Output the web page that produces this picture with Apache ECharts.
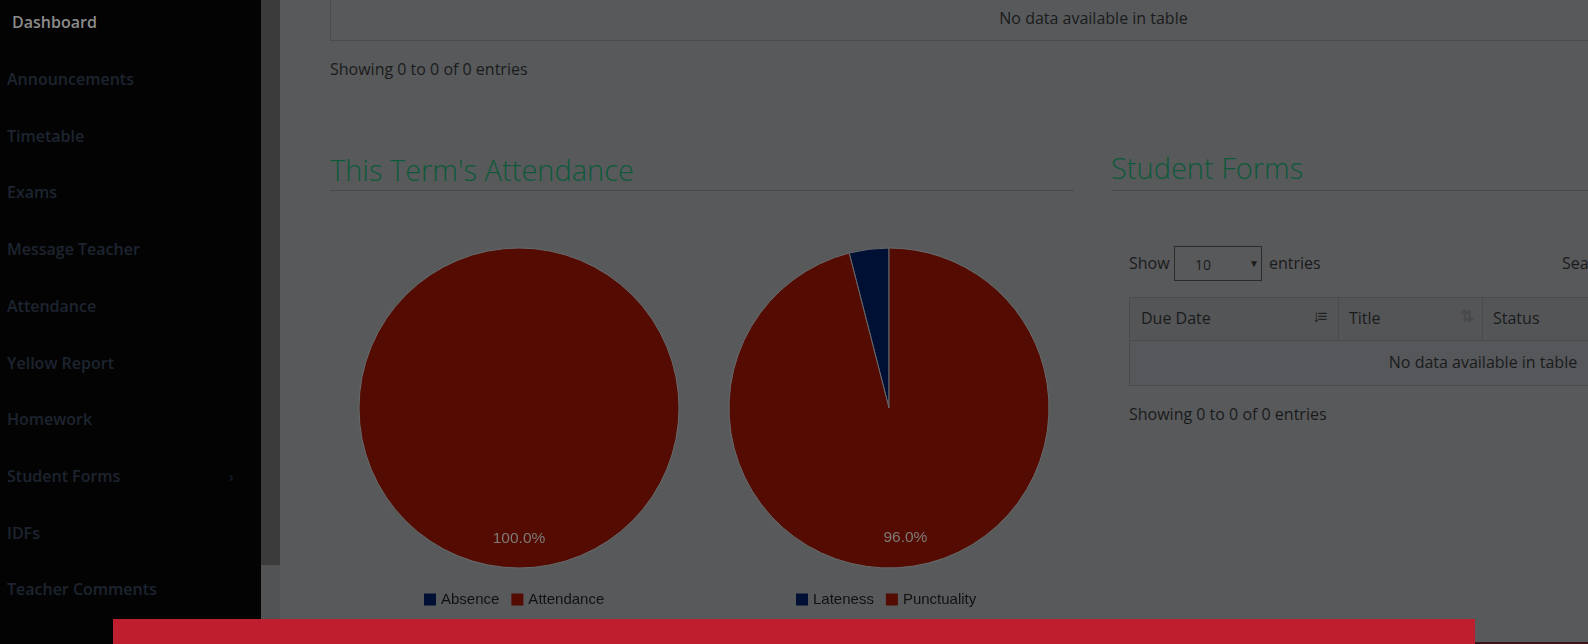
<!DOCTYPE html>
<html>
<head>
<meta charset="utf-8">
<script src="https://cdn.jsdelivr.net/npm/echarts@6/dist/echarts.min.js"></script>
<style>
  html,body{margin:0;padding:0;}
  body{width:1588px;height:644px;overflow:hidden;background:#58595b;position:relative;font-family:"Open Sans",sans-serif;}
  .abs{position:absolute;white-space:nowrap;}
  #sidebar{position:absolute;left:0;top:0;width:261px;height:644px;background:#030303;}
  .nav{position:absolute;left:7px;font-size:16px;font-weight:600;color:#1d2430;line-height:20px;}
  #strip1{position:absolute;left:261px;top:0;width:19px;height:565px;background:#3a3b3a;}
  #strip2{position:absolute;left:261px;top:565px;width:19px;height:54px;background:#525354;}
  #redbar{position:absolute;left:113px;top:619px;width:1362px;height:25px;background:#be1e2d;}
  #botline{position:absolute;left:1475px;top:642px;width:113px;height:2px;background:#3a1416;}
  .txt{font-size:16px;color:#1a1b1c;line-height:20px;}
  .h2{font-size:29px;font-weight:300;color:#0d5a3a;line-height:34px;}
  .rule{position:absolute;height:1px;background:#48494b;}
  #chart{position:absolute;left:330px;top:200px;width:744px;height:419px;}
</style>
</head>
<body>
<div id="sidebar"></div>
<div id="strip1"></div>
<div id="strip2"></div>

<div class="nav abs" style="left:12px;top:12px;color:#8c8c8c;">Dashboard</div>
<div class="nav abs" style="top:69px;">Announcements</div>
<div class="nav abs" style="top:126px;">Timetable</div>
<div class="nav abs" style="top:182px;">Exams</div>
<div class="nav abs" style="top:239px;">Message Teacher</div>
<div class="nav abs" style="top:296px;">Attendance</div>
<div class="nav abs" style="top:353px;">Yellow Report</div>
<div class="nav abs" style="top:409px;">Homework</div>
<div class="nav abs" style="top:466px;">Student Forms</div>
<div class="nav abs" style="top:466px;left:229px;font-weight:400;font-size:15px;">&#8250;</div>
<div class="nav abs" style="top:523px;">IDFs</div>
<div class="nav abs" style="top:579px;">Teacher Comments</div>

<!-- top table remnant -->
<div class="abs" style="left:330px;top:-2px;width:1300px;height:41px;border:1px solid #4b4c4e;"></div>
<div class="abs txt" style="left:330px;top:8px;width:1527px;text-align:center;">No data available in table</div>
<div class="abs txt" style="left:330px;top:59px;">Showing 0 to 0 of 0 entries</div>

<!-- Attendance heading -->
<div class="abs h2" style="left:330px;top:153px;">This Term's Attendance</div>
<div class="rule" style="left:330px;top:190px;width:744px;"></div>

<!-- Student forms -->
<div class="abs h2" style="left:1111px;top:151px;">Student Forms</div>
<div class="rule" style="left:1111px;top:190px;width:477px;"></div>

<div class="abs txt" style="left:1129px;top:253px;">Show</div>
<div class="abs" style="left:1174px;top:246px;width:88px;height:35px;border:1px solid #2b2c2d;box-sizing:border-box;"></div>
<div class="abs txt" style="left:1195px;top:255px;font-size:14px;">10</div>
<div class="abs" style="left:1249px;top:253px;font-size:10px;color:#1a1b1c;line-height:20px;">&#9660;</div>
<div class="abs txt" style="left:1269px;top:253px;">entries</div>
<div class="abs txt" style="left:1562px;top:253px;">Search:</div>

<div class="abs" style="left:1129px;top:297px;width:708px;height:44px;background:#545557;border:1px solid #4a4b4d;box-sizing:border-box;"></div>
<div class="abs" style="left:1338px;top:297px;width:1px;height:44px;background:#4a4b4d;"></div>
<div class="abs" style="left:1482px;top:297px;width:1px;height:44px;background:#4a4b4d;"></div>
<div class="abs txt" style="left:1141px;top:308px;">Due Date</div>
<div class="abs txt" style="left:1312px;top:306px;font-size:17px;font-weight:700;color:#222;letter-spacing:-3px;">&#8595;&#8801;</div>
<div class="abs txt" style="left:1349px;top:308px;">Title</div>
<div class="abs txt" style="left:1460px;top:306px;font-size:17px;font-weight:700;color:#48494b;">&#8645;</div>
<div class="abs txt" style="left:1493px;top:308px;">Status</div>
<div class="abs" style="left:1129px;top:340px;width:708px;height:46px;background:#56575a;border:1px solid #4a4b4d;box-sizing:border-box;"></div>
<div class="abs txt" style="left:1129px;top:352px;width:708px;text-align:center;">No data available in table</div>
<div class="abs txt" style="left:1129px;top:404px;">Showing 0 to 0 of 0 entries</div>

<div id="chart"></div>

<div id="redbar"></div>
<div id="botline"></div>

<script>
// ---- data ----
const attendanceCategories = ['Absence', 'Attendance'];
const attendanceValues = [0, 100];
const punctualityCategories = ['Lateness', 'Punctuality'];
const punctualityValues = [4, 96];

// ---- styles ----
const sliceColors = ['#001035', '#540c02'];
const R = 160;
const minLabelPercent = 10;

function pieData(cats, vals) {
  return cats.map((c, i) => ({ name: c, value: vals[i], itemStyle: { color: sliceColors[i] } }));
}
function labelData(cats, vals) {
  const total = vals.reduce((a, b) => a + b, 0);
  return cats.map((c, i) => ({ name: c, value: vals[i],
    label: { show: total > 0 && vals[i] / total * 100 >= minLabelPercent } }));
}

function pieSeries(cats, vals, center) {
  return [
    {
      type: 'pie', center: center, radius: [0, R], startAngle: 90, clockwise: false,
      animation: false, stillShowZeroSum: true,
      label: { show: false }, labelLine: { show: false },
      itemStyle: { borderColor: '#67696b', borderWidth: 1 },
      emphasis: { disabled: true },
      data: pieData(cats, vals)
    },
    {
      type: 'pie', center: center, radius: [R * 0.6, R], startAngle: 90, clockwise: false,
      animation: false, silent: true, legendHoverLink: false,
      itemStyle: { color: 'rgba(0,0,0,0)', borderWidth: 0 },
      labelLine: { show: false },
      label: { position: 'inside',
               formatter: p => p.percent.toFixed(1) + '%',
               color: '#7d7a78',
               fontFamily: '"Liberation Sans", Arial, sans-serif', fontSize: 15.5 },
      emphasis: { disabled: true },
      data: labelData(cats, vals)
    }
  ];
}

const chart = echarts.init(document.getElementById('chart'), null, { renderer: 'canvas' });
const legendText = { color: '#111111', fontFamily: '"Liberation Sans", Arial, sans-serif', fontSize: 15 };
const legendBase = { top: 392, padding: 0, icon: 'rect', itemWidth: 12, itemHeight: 12, itemGap: 12,
  textStyle: legendText, selectedMode: false, itemStyle: { borderWidth: 0 } };
chart.setOption({
  backgroundColor: 'transparent',
  animation: false,
  legend: [
    Object.assign({ data: attendanceCategories, left: 94 }, legendBase),
    Object.assign({ data: punctualityCategories, left: 466 }, legendBase)
  ],
  series: [
    ...pieSeries(attendanceCategories, attendanceValues, [189, 208]),
    ...pieSeries(punctualityCategories, punctualityValues, [559, 208])
  ]
});
</script>
</body>
</html>
